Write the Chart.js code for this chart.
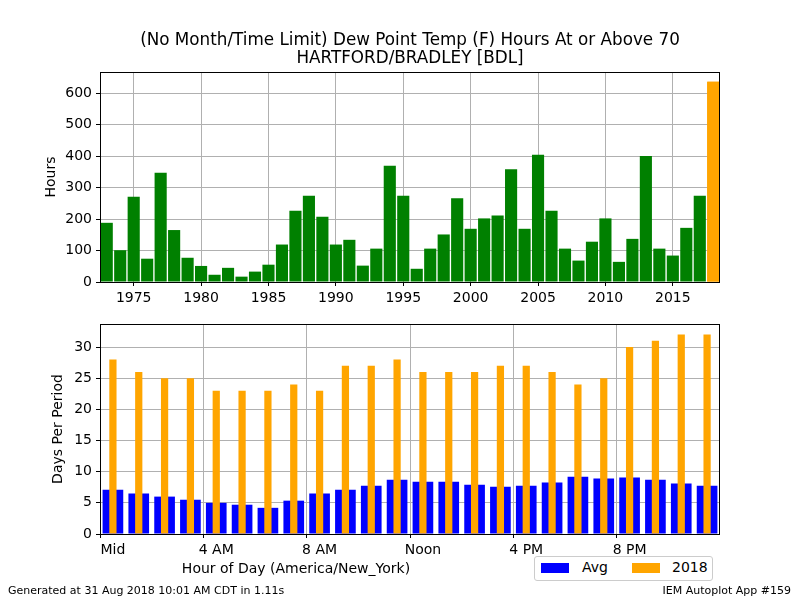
<!DOCTYPE html>
<html>
<head>
<meta charset="utf-8">
<script src="https://cdn.jsdelivr.net/npm/chart.js@4"></script>
<style>
  body { margin: 0; width: 800px; height: 600px; position: relative; background: #fff; font-family: 'DejaVu Sans', sans-serif; overflow: hidden; }
  canvas { position: absolute; left: 0; }
  #top-chart { top: 0; }
  #bottom-chart { top: 310px; }
  .foot { position: absolute; top: 584px; font-size: 11px; color: #000; }
  #legend { position: absolute; left: 534px; top: 556px; width: 177px; height: 23px; border: 1px solid #ccc; border-radius: 3px; background: #fff; font-size: 14px; }
  #legend span.box { position: absolute; top: 6px; width: 28px; height: 10px; }
  #legend span.txt { position: absolute; top: 2px; }
</style>
</head>
<body>
<canvas id="top-chart" width="800" height="310"></canvas>
<canvas id="bottom-chart" width="800" height="290"></canvas>
<div id="legend">
  <span class="box" style="left:6px;background:#0000ff"></span><span class="txt" style="left:47px">Avg</span>
  <span class="box" style="left:97px;background:#ffa500"></span><span class="txt" style="left:137px">2018</span>
</div>
<div class="foot" style="left:8px">Generated at 31 Aug 2018 10:01 AM CDT in 1.11s</div>
<div class="foot" style="right:9px">IEM Autoplot App #159</div>
<script>
const years = [];
for (let y = 1973; y <= 2018; y++) years.push(y);
const hoursAbove = [188, 101, 271, 74, 347, 165, 77, 51, 23, 45, 17, 33, 55, 119, 226, 274, 207, 119, 134, 52,
  106, 369, 274, 42, 106, 151, 266, 169, 202, 211, 358, 169, 404, 226, 106, 68, 128, 202, 64, 137,
  400, 106, 84, 172, 274, 636];
const yearTicks = [1975, 1980, 1985, 1990, 1995, 2000, 2005, 2010, 2015];

const hourOfDay = [0, 1, 2, 3, 4, 5, 6, 7, 8, 9, 10, 11, 12, 13, 14, 15, 16, 17, 18, 19, 20, 21, 22, 23];
const avgDays = [7.1, 6.5, 6.0, 5.5, 5.0, 4.7, 4.2, 5.35, 6.5, 7.1, 7.75, 8.7,
  8.4, 8.4, 7.9, 7.6, 7.75, 8.25, 9.2, 8.9, 9.05, 8.7, 8.1, 7.75];
const days2018 = [28, 26, 25, 25, 23, 23, 23, 24, 23, 27, 27, 28,
  26, 26, 26, 27, 27, 26, 24, 25, 30, 31, 32, 32];
const hourTickLabels = ['Mid', '4 AM', '8 AM', 'Noon', '4 PM', '8 PM'];

Chart.defaults.font.family = "'DejaVu Sans', sans-serif";
Chart.defaults.font.size = 14;
Chart.defaults.color = '#000';
Chart.defaults.animation = false;

const gridGrey = '#b0b0b0';

// black frame around the plot area, like matplotlib spines
const framePlugin = {
  id: 'frame',
  afterDraw(chart) {
    const a = chart.chartArea;
    const ctx = chart.ctx;
    ctx.save();
    ctx.strokeStyle = '#000';
    ctx.lineWidth = 1;
    ctx.strokeRect(Math.round(a.left) + 0.5, Math.round(a.top) + 0.5,
      Math.round(a.right - a.left) - 1, Math.round(a.bottom - a.top));
    ctx.restore();
  }
};

// free text placed in canvas coordinates (title, axis label)
const textPlugin = {
  id: 'freeText',
  afterDraw(chart, args, opts) {
    const ctx = chart.ctx;
    ctx.save();
    ctx.fillStyle = '#000';
    ctx.textAlign = 'center';
    ctx.textBaseline = 'middle';
    (opts.items || []).forEach(t => {
      ctx.font = t.size + "px 'DejaVu Sans', sans-serif";
      ctx.fillText(t.text, t.x, t.y);
    });
    ctx.restore();
  }
};

// the 2018 bar sits above the grid
const recordOnTop = {
  id: 'recordOnTop',
  afterDraw(chart) {
    const meta = chart.getDatasetMeta(0);
    const bar = meta.data[meta.data.length - 1];
    if (bar) bar.draw(chart.ctx);
  }
};

new Chart(document.getElementById('top-chart'), {
  type: 'bar',
  data: {
    datasets: [{
      label: 'Hours',
      data: years.map((y, i) => ({ x: y, y: hoursAbove[i] })),
      backgroundColor: years.map(y => y === 2018 ? '#ffa500' : '#008000'),
      barPercentage: 0.9,
      categoryPercentage: 1
    }]
  },
  options: {
    responsive: false,
    layout: { padding: { top: 72, left: 39, right: 80, bottom: 0 } },
    plugins: {
      legend: { display: false },
      tooltip: { enabled: false },
      freeText: {
        items: [
          { text: '(No Month/Time Limit) Dew Point Temp (F) Hours At or Above 70', x: 410, y: 41, size: 16.8 },
          { text: 'HARTFORD/BRADLEY [BDL]', x: 410, y: 59, size: 16.8 }
        ]
      }
    },
    scales: {
      x: {
        type: 'linear',
        min: 1972.5,
        max: 2018.5,
        offset: false,
        z: 1,
        afterBuildTicks: s => { s.ticks = yearTicks.map(v => ({ value: v })); },
        afterFit: s => { s.height = 28; },
        ticks: { callback: v => String(v), padding: 4, maxRotation: 0 },
        grid: { color: gridGrey, tickColor: '#000', tickLength: 4, offset: false },
        border: { display: false }
      },
      y: {
        min: 0,
        max: 667,
        z: 1,
        afterFit: s => { s.width = 61; },
        ticks: { stepSize: 100, includeBounds: false, padding: 4 },
        grid: { color: gridGrey, tickColor: '#000', tickLength: 4 },
        border: { display: false },
        title: { display: true, text: 'Hours', padding: { top: 4, bottom: 4 } }
      }
    }
  },
  plugins: [recordOnTop, framePlugin, textPlugin]
});

new Chart(document.getElementById('bottom-chart'), {
  type: 'bar',
  data: {
    labels: hourOfDay,
    datasets: [{
      label: 'Avg',
      data: avgDays,
      backgroundColor: '#0000ff',
      barPercentage: 0.8,
      categoryPercentage: 1,
      grouped: false,
      order: 1
    }, {
      label: '2018',
      data: days2018,
      backgroundColor: '#ffa500',
      barPercentage: 0.28,
      categoryPercentage: 1,
      grouped: false,
      order: 0
    }]
  },
  options: {
    responsive: false,
    layout: { padding: { top: 14, left: 46, right: 80, bottom: 0 } },
    plugins: {
      legend: { display: false },
      tooltip: { enabled: false },
      freeText: {
        items: [{ text: 'Hour of Day (America/New_York)', x: 296, y: 259, size: 14 }]
      }
    },
    scales: {
      x: {
        afterFit: s => { s.height = 66; },
        ticks: {
          autoSkip: false,
          maxRotation: 0,
          padding: 4,
          callback: (v, i) => i % 4 === 0 ? hourTickLabels[i / 4] : ''
        },
        grid: {
          color: c => c.index % 4 === 0 ? gridGrey : 'rgba(0,0,0,0)',
          tickColor: c => c.index % 4 === 0 ? '#000' : 'rgba(0,0,0,0)',
          tickLength: 4
        },
        border: { display: false }
      },
      y: {
        min: 0,
        max: 33.7,
        afterFit: s => { s.width = 54; },
        ticks: { stepSize: 5, includeBounds: false, padding: 4 },
        grid: { color: gridGrey, tickColor: '#000', tickLength: 4 },
        border: { display: false },
        title: { display: true, text: 'Days Per Period', padding: { top: 4, bottom: 4 } }
      }
    }
  },
  plugins: [framePlugin, textPlugin]
});
</script>
</body>
</html>
